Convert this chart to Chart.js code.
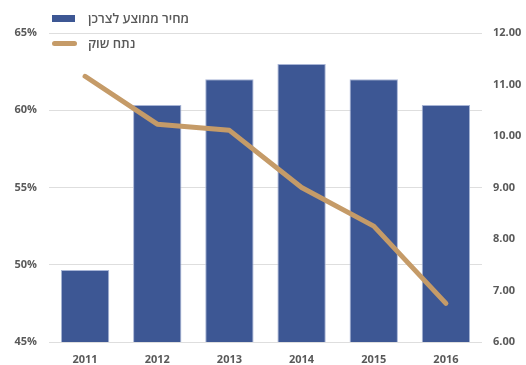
<!DOCTYPE html>
<html>
<head>
<meta charset="utf-8">
<script src="https://cdn.jsdelivr.net/npm/chart.js@4"></script>
<style>
    html, body { margin: 0; padding: 0; background: #fff; }
    #box { position: relative; width: 526px; height: 365px; }
    #legend { position: absolute; left: 52px; top: 9px; font-family: "Open Sans", "DejaVu Sans", sans-serif; font-size: 13px; font-weight: 600; color: #595959; }
    .item { position: absolute; left: 0; white-space: nowrap; height: 18px; line-height: 18px; }
    .swatch { position: absolute; left: 0; }
    .label { position: absolute; left: 36px; direction: rtl; }
</style>
</head>
<body>
<div id="box">
    <canvas id="priceChart" width="526" height="365"></canvas>
    <div id="legend"></div>
</div>
<script>
var years = ["2011", "2012", "2013", "2014", "2015", "2016"];
var avgPrice = [7.40, 10.60, 11.10, 11.40, 11.10, 10.60];
var marketShare = [62.2, 59.1, 58.7, 55.0, 52.5, 47.5];
var priceLabel = "מחיר ממוצע לצרכן";
var shareLabel = "נתח שוק";

var barColor = "#3d5794";
var lineColor = "#c59b68";
var tickFont = { family: "'Open Sans', 'DejaVu Sans', sans-serif", size: 11, weight: "bold" };

// legend sits over the top-left of the plot
var legendHTML = ""
    + '<div class="item" style="top:0px"><div class="swatch" style="top:6px;width:23px;height:7px;background:' + barColor + '"></div><span class="label">' + priceLabel + '</span></div>'
    + '<div class="item" style="top:25px"><div class="swatch" style="top:7px;width:25px;height:5px;border-radius:3px;background:' + lineColor + '"></div><span class="label">' + shareLabel + '</span></div>';
document.getElementById("legend").innerHTML = legendHTML;

var chart = new Chart(document.getElementById("priceChart"), {
    data: {
        labels: years,
        datasets: [
            {
                type: "line",
                label: shareLabel,
                data: marketShare,
                yAxisID: "yShare",
                borderColor: lineColor,
                borderWidth: 5,
                borderCapStyle: "round",
                borderJoinStyle: "round",
                pointRadius: 0,
                tension: 0,
                order: 0
            },
            {
                type: "bar",
                label: priceLabel,
                data: avgPrice,
                yAxisID: "yPrice",
                backgroundColor: barColor,
                borderColor: "#a8b5d6",
                borderWidth: 1,
                categoryPercentage: 1,
                barPercentage: 0.67,
                order: 1
            }
        ]
    },
    options: {
        responsive: false,
        animation: false,
        layout: { padding: { top: 33, bottom: 0, left: 0, right: 0 } },
        plugins: {
            legend: { display: false },
            tooltip: { enabled: false }
        },
        scales: {
            x: {
                grid: { display: false },
                border: { display: false },
                ticks: { font: tickFont, color: "#595959", padding: 3 },
                afterFit: function (scale) { scale.height = 23; }
            },
            yShare: {
                position: "left",
                min: 45,
                max: 65,
                grid: { color: "#dedede", drawTicks: false },
                border: { display: false },
                ticks: {
                    stepSize: 5,
                    font: tickFont,
                    color: "#595959",
                    padding: 12,
                    callback: function (v) { return v + "%"; }
                },
                afterFit: function (scale) { scale.width = 49; }
            },
            yPrice: {
                position: "right",
                min: 6,
                max: 12,
                grid: { drawOnChartArea: false, drawTicks: false },
                border: { display: false },
                ticks: {
                    stepSize: 1,
                    font: tickFont,
                    color: "#595959",
                    padding: 11,
                    callback: function (v) { return v.toFixed(2); }
                },
                afterFit: function (scale) { scale.width = 44; }
            }
        }
    }
});
</script>
</body>
</html>
